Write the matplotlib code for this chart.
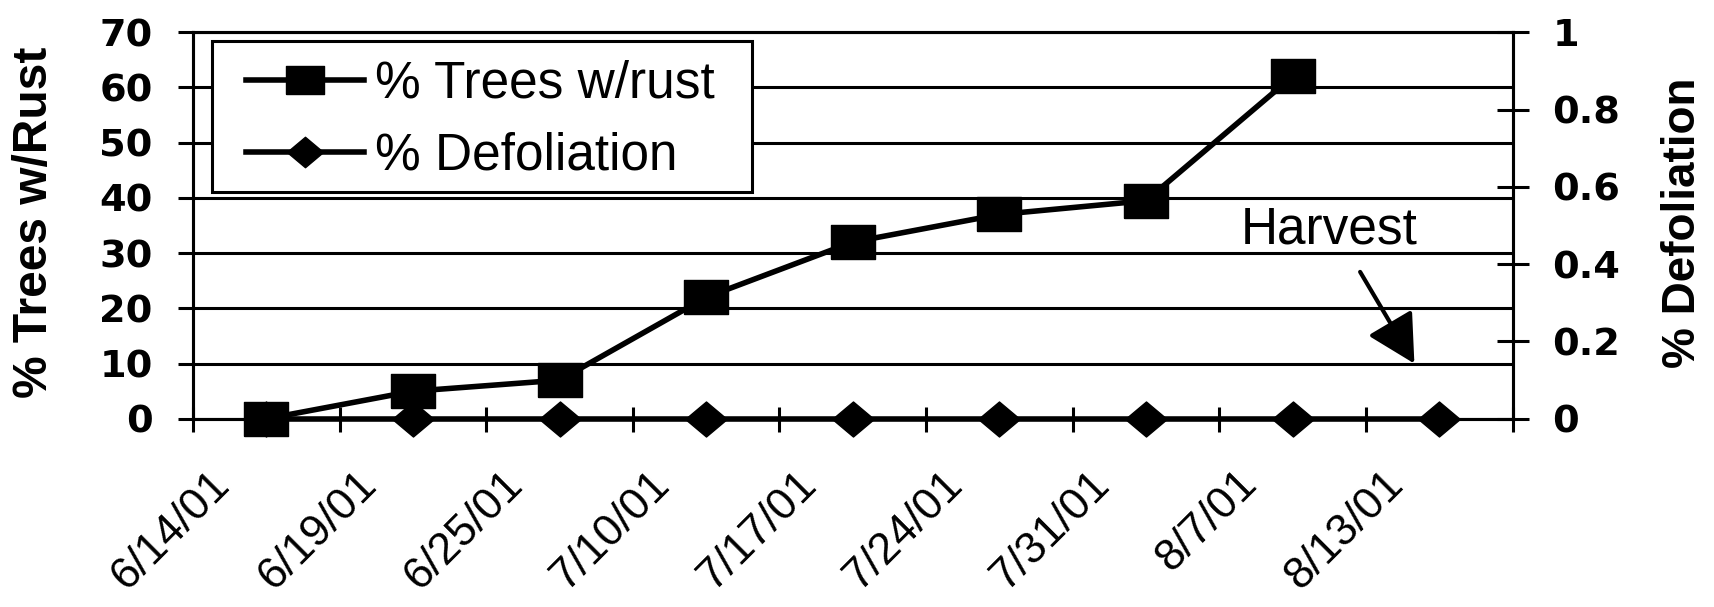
import numpy as np
import matplotlib
matplotlib.use("Agg")
import matplotlib.pyplot as plt
from matplotlib.patches import Rectangle
from matplotlib.transforms import ScaledTranslation

# sampling dates (category axis) and readings
dates = ['6/14/01', '6/19/01', '6/25/01', '7/10/01', '7/17/01',
         '7/24/01', '7/31/01', '8/7/01', '8/13/01']
rust_pct = [0, 5, 7, 22, 32, 37, 39.5, 62]      # no rust count after harvest
defol_pct = [0, 0, 0, 0, 0, 0, 0, 0, 0]
left_ticks = [0, 10, 20, 30, 40, 50, 60, 70]
right_ticks = [0, 0.2, 0.4, 0.6, 0.8, 1.0]
right_labels = ['0', '0.2', '0.4', '0.6', '0.8', '1']

plt.rcParams['font.family'] = ['Liberation Sans', 'DejaVu Sans']

# slightly flattened square / diamond markers
box = [(-1, -0.76), (1, -0.76), (1, 0.76), (-1, 0.76), (-1, -0.76)]
diamond = [(-1, 0), (0, 0.84), (1, 0), (0, -0.84), (-1, 0)]

LW = 2.2
TICKFONT = dict(family='DejaVu Sans', weight='bold', size=27.5)

fig = plt.figure(figsize=(17.15, 6.07), dpi=100)
ax = fig.add_axes([0.1125, 0.31, 0.7695, 0.637])
ax2 = ax.twinx()

x = np.arange(len(dates))
l1, = ax.plot(x[:len(rust_pct)], rust_pct, color='k', lw=4, marker=box,
              ms=31.5, label='% Trees w/rust', clip_on=False, zorder=3)
l2, = ax2.plot(x, defol_pct, color='k', lw=4, marker=diamond, ms=30,
               label='% Defoliation', clip_on=False, zorder=3)

ax.set_xlim(-0.5, len(dates) - 0.5)
ax.set_ylim(0, 70)
ax2.set_ylim(0, 1)

for a in (ax, ax2):
    for s in a.spines.values():
        s.set_linewidth(LW)

ax.yaxis.grid(True, color='k', lw=LW)

# left axis
ax.set_yticks(left_ticks)
ax.tick_params(axis='y', direction='out', length=11, width=LW, pad=18)
for t in ax.get_yticklabels():
    t.set_fontproperties(TICKFONT)
ax.set_ylabel('% Trees w/Rust', fontsize=34.5, fontweight='bold')
ax.yaxis.label.set_va('center')
ax.yaxis.set_label_coords(-0.1197, 0.509)

# x axis: labels at category centres, tick marks between categories
ax.set_xticks(x)
ax.set_xticklabels(dates, rotation=45, ha='right', va='top', fontsize=32)
ax.tick_params(axis='x', which='major', length=0, pad=32)
ax.set_xticks(np.arange(-0.5, len(dates), 1), minor=True)
ax.tick_params(axis='x', which='minor', direction='inout', length=18,
               width=LW)
shift = ScaledTranslation(-28 / 100, 0, fig.dpi_scale_trans)
for t in ax.get_xticklabels():
    t.set_transform(t.get_transform() + shift)

# right axis
ax2.set_yticks(right_ticks, right_labels)
ax2.tick_params(axis='y', direction='inout', length=23, width=LW, pad=17)
for t in ax2.get_yticklabels():
    t.set_fontproperties(TICKFONT)
ax2.set_ylabel('% Defoliation', fontsize=33, fontweight='bold',
               rotation=90)
ax2.yaxis.label.set_va('center')
ax2.yaxis.set_label_coords(1.129, 0.506)

# harvest note
ax.text(7.25, 34.2, 'Harvest', ha='center', va='center', fontsize=37)
ax.annotate('', xy=(7.83, 10), xytext=(7.46, 26.6),
            arrowprops=dict(arrowstyle='-|>,head_length=1.35,head_width=0.72',
                            color='k', lw=3, mutation_scale=22,
                            shrinkA=0, shrinkB=0))

# legend box drawn separately so its padding can differ per side
ax2.add_patch(Rectangle((0.0144, 0.5866), 0.4091, 0.3901,
                        transform=ax2.transAxes, facecolor='white',
                        edgecolor='k', lw=LW, zorder=4, clip_on=False))
leg = ax2.legend([l1, l2], [l1.get_label(), l2.get_label()],
                 loc='upper left', bbox_to_anchor=(0.0402, 0.929),
                 fontsize=37, frameon=False, borderpad=0, labelspacing=0.45,
                 handlelength=2.3, handletextpad=0.21, borderaxespad=0,
                 markerscale=0.87)
leg.set_zorder(5)

fig.savefig('out.png', dpi=100)
